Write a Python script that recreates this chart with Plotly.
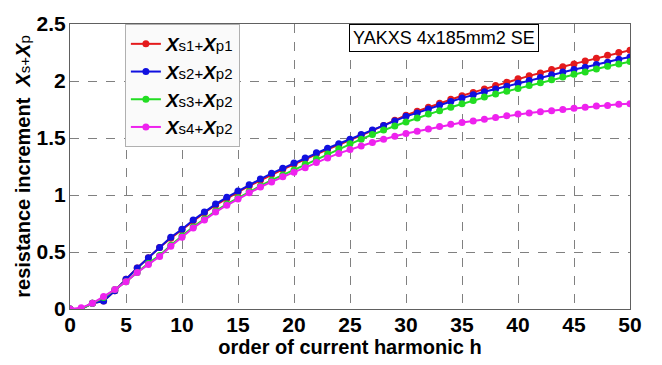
import plotly.graph_objects as go

h = list(range(51))

xs1_xp1 = [0.00, 0.00, 0.05, 0.07, 0.16, 0.26, 0.36, 0.45, 0.54, 0.62,
           0.695, 0.775, 0.845, 0.91, 0.97, 1.025, 1.08, 1.13, 1.18, 1.225,
           1.27, 1.315, 1.36, 1.40, 1.44, 1.48, 1.525, 1.565, 1.61, 1.655,
           1.70, 1.735, 1.77, 1.805, 1.84, 1.87, 1.90, 1.93, 1.96, 1.99,
           2.02, 2.045, 2.07, 2.10, 2.125, 2.15, 2.175, 2.20, 2.225, 2.25, 2.27]
xs2_xp2 = [0.00, 0.00, 0.05, 0.07, 0.16, 0.26, 0.36, 0.45, 0.54, 0.63,
           0.70, 0.78, 0.85, 0.92, 0.98, 1.035, 1.09, 1.14, 1.19, 1.235,
           1.28, 1.325, 1.37, 1.41, 1.45, 1.49, 1.53, 1.57, 1.61, 1.65,
           1.69, 1.72, 1.755, 1.79, 1.82, 1.85, 1.88, 1.905, 1.93, 1.955,
           1.98, 2.005, 2.03, 2.055, 2.08, 2.10, 2.12, 2.145, 2.165, 2.19, 2.21]
xs3_xp2 = [0.00, 0.00, 0.05, 0.10, 0.17, 0.24, 0.32, 0.40, 0.47, 0.56,
           0.64, 0.72, 0.79, 0.86, 0.92, 0.975, 1.03, 1.08, 1.13, 1.175,
           1.22, 1.27, 1.315, 1.36, 1.405, 1.45, 1.49, 1.53, 1.57, 1.605,
           1.64, 1.675, 1.71, 1.74, 1.77, 1.80, 1.83, 1.86, 1.885, 1.91,
           1.935, 1.96, 1.985, 2.01, 2.035, 2.06, 2.08, 2.105, 2.13, 2.15, 2.17]
xs4_xp2 = [0.00, 0.01, 0.05, 0.11, 0.17, 0.24, 0.32, 0.39, 0.46, 0.55,
           0.63, 0.71, 0.78, 0.85, 0.91, 0.965, 1.02, 1.07, 1.115, 1.16,
           1.20, 1.24, 1.285, 1.325, 1.365, 1.40, 1.43, 1.46, 1.49, 1.515,
           1.54, 1.56, 1.58, 1.60, 1.62, 1.635, 1.65, 1.665, 1.68, 1.695,
           1.71, 1.72, 1.73, 1.74, 1.75, 1.76, 1.77, 1.78, 1.785, 1.795, 1.80]

x_ticks = [0, 5, 10, 15, 20, 25, 30, 35, 40, 45, 50]
y_ticks = [0, 0.5, 1, 1.5, 2, 2.5]
y_tick_labels = ["0", "0.5", "1", "1.5", "2", "2.5"]

def lbl(s, p):
    sm = '<span style="font-size:15px">'
    return f'<b><i>X</i></b>{sm}{s}+</span><b><i>X</i></b>{sm}{p}</span>'

series = [
    (lbl("s1", "p1"), xs1_xp1, "#e41a1c"),
    (lbl("s2", "p2"), xs2_xp2, "#1010e0"),
    (lbl("s3", "p2"), xs3_xp2, "#22dd22"),
    (lbl("s4", "p2"), xs4_xp2, "#ee22ee"),
]

fig = go.Figure()
for name, vals, col in series:
    fig.add_trace(go.Scatter(
        x=h, y=vals, name=name, mode="lines+markers",
        line=dict(color=col, width=2),
        marker=dict(color=col, size=7, symbol="circle"),
    ))

font_family = "Liberation Sans, Arial, sans-serif"

fig.update_layout(
    width=654, height=357,
    margin=dict(l=62, r=32, t=16, b=56),
    paper_bgcolor="white", plot_bgcolor="white",
    font=dict(family=font_family, color="black"),
    showlegend=True,
    legend=dict(
        x=0.098, y=1.0, xanchor="left", yanchor="top",
        bgcolor="#fafafa", bordercolor="#b0b0b0", borderwidth=1,
        font=dict(size=19, family=font_family, color="black"),
        tracegroupgap=0, itemwidth=30,
    ),
    xaxis=dict(
        range=[0, 50], tickvals=x_ticks,
        ticktext=[f"<b>{v}</b>" for v in x_ticks],
        showgrid=True, gridcolor="#808080", griddash="dash", gridwidth=1,
        showline=True, linecolor="#606060", linewidth=1, mirror=True,
        zeroline=False, ticks="", ticklen=0, automargin=False,
        ticklabelstandoff=-3,
        tickfont=dict(size=21, family=font_family, color="black"),
        title=dict(text="<b>order of current harmonic h</b>",
                   font=dict(size=20, family=font_family, color="black"),
                   standoff=0),
    ),
    yaxis=dict(
        range=[0, 2.5], tickvals=y_ticks,
        ticktext=[f"<b>{t}</b>" for t in y_tick_labels],
        showgrid=True, gridcolor="#808080", griddash="dash", gridwidth=1,
        showline=True, linecolor="#606060", linewidth=1, mirror=True,
        zeroline=False, ticks="", ticklen=0, automargin=False,
        ticklabelstandoff=-1,
        tickfont=dict(size=21, family=font_family, color="black"),
        title=dict(text="<b>resistance increment  <i>X</i></b><span style='font-size:15px'>s+</span><b><i>X</i></b><span style='font-size:15px'>p</span>",
                   font=dict(size=20, family=font_family, color="black"),
                   standoff=0),
    ),
    annotations=[dict(
        text="YAKXS 4x185mm2 SE", xref="paper", yref="paper",
        x=0.498, y=1.0, xanchor="left", yanchor="top", showarrow=False,
        font=dict(size=18, family=font_family, color="black"),
        bgcolor="white", bordercolor="black", borderwidth=1, borderpad=3,
    )],
)

fig.write_html("out.html")
